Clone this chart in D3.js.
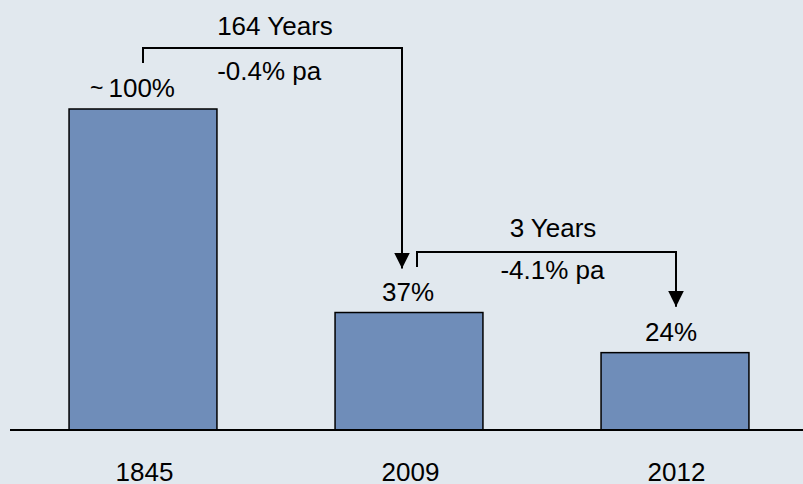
<!DOCTYPE html>
<html><head><meta charset="utf-8">
<script src="https://cdn.jsdelivr.net/npm/d3@7"></script>
<style>
html,body{margin:0;padding:0;background:#e1e8ee;}
svg{display:block;}
text{font-family:"Liberation Sans",Arial,sans-serif;fill:#000;}
</style></head>
<body>
<script>
const categories = ["1845", "2009", "2012"];
const values = [100, 36.6, 24.1];
const valueLabels = ["100%", "37%", "24%"];
const valuePrefix = ["~", "", ""];
const spans = [
  {from: "1845", to: "2009", period: "164 Years", rate: "-0.4% pa"},
  {from: "2009", to: "2012", period: "3 Years", rate: "-4.1% pa"}
];

const W = 803, H = 484, FS = 26;
const svg = d3.select("body").append("svg").attr("width", W).attr("height", H);
svg.append("rect").attr("width", W).attr("height", H).attr("fill", "#e1e8ee");

const x = d3.scaleBand().domain(categories).range([10, 808]).paddingInner(0.444).paddingOuter(0.222);
const y = d3.scaleLinear().domain([0, 100]).range([430, 109]);

const defs = svg.append("defs");
defs.append("marker").attr("id", "ah").attr("viewBox", "0 0 10 10")
  .attr("refX", 10).attr("refY", 5).attr("markerWidth", 16).attr("markerHeight", 16)
  .attr("markerUnits", "userSpaceOnUse").attr("orient", "auto")
  .append("path").attr("d", "M0,0 L10,5 L0,10 Z").attr("fill", "#000");

// bars
svg.selectAll("rect.bar").data(categories).join("rect").attr("class", "bar")
  .attr("x", d => x(d)).attr("width", x.bandwidth())
  .attr("y", (d, i) => y(values[i])).attr("height", (d, i) => y(0) - y(values[i]))
  .attr("fill", "#6f8db9").attr("stroke", "#000").attr("stroke-width", 1.5);

// baseline
svg.append("line").attr("x1", 10).attr("x2", W).attr("y1", y(0)).attr("y2", y(0))
  .attr("stroke", "#000").attr("stroke-width", 2);

// category labels
const cx = d => x(d) + x.bandwidth() / 2;
svg.selectAll("text.cat").data(categories).join("text").attr("class", "cat")
  .attr("x", d => cx(d) + 1.5).attr("y", 481).attr("text-anchor", "middle")
  .attr("font-size", FS).text(d => d);

// value labels
const labelOffsetX = [-10.5, -1, -4];
const vt = svg.selectAll("text.val").data(categories).join("text").attr("class", "val")
  .attr("x", (d, i) => cx(d) + labelOffsetX[i]).attr("y", (d, i) => y(values[i]) - 12)
  .attr("text-anchor", "middle").attr("font-size", FS);
vt.each(function(d, i) {
  const t = d3.select(this);
  if (valuePrefix[i]) {
    t.append("tspan").attr("font-size", 23).attr("dy", -1).text(valuePrefix[i]);
    t.append("tspan").attr("dx", 5).attr("dy", 1).text(valueLabels[i]);
  } else {
    t.text(valueLabels[i]);
  }
});

// span brackets
const bracketDefs = [
  {x0off: 0, x1off: -7, yTop: 48, yLeft: 63, tipGap: 44, periodY: 35, rateY: 80, periodDx: 2.5, rateDx: -3.3},
  {x0off: 8, x1off: 1, yTop: 252, yLeft: 267, tipGap: 46, periodY: 237, rateY: 279, periodDx: 6.5, rateDx: 6}
];
spans.forEach((s, k) => {
  const b = bracketDefs[k];
  const i1 = categories.indexOf(s.to);
  const xa = cx(s.from) + b.x0off, xb = cx(s.to) + b.x1off;
  const tip = y(values[i1]) - b.tipGap;
  svg.append("path")
    .attr("d", `M${xa},${b.yLeft} L${xa},${b.yTop} L${xb},${b.yTop} L${xb},${tip}`)
    .attr("fill", "none").attr("stroke", "#000").attr("stroke-width", 2)
    .attr("marker-end", "url(#ah)");
  const mid = (xa + xb) / 2;
  svg.append("text").attr("x", mid + b.periodDx).attr("y", b.periodY)
    .attr("text-anchor", "middle").attr("font-size", FS).text(s.period);
  svg.append("text").attr("x", mid + b.rateDx).attr("y", b.rateY)
    .attr("text-anchor", "middle").attr("font-size", FS).text(s.rate);
});
</script>
</body></html>
